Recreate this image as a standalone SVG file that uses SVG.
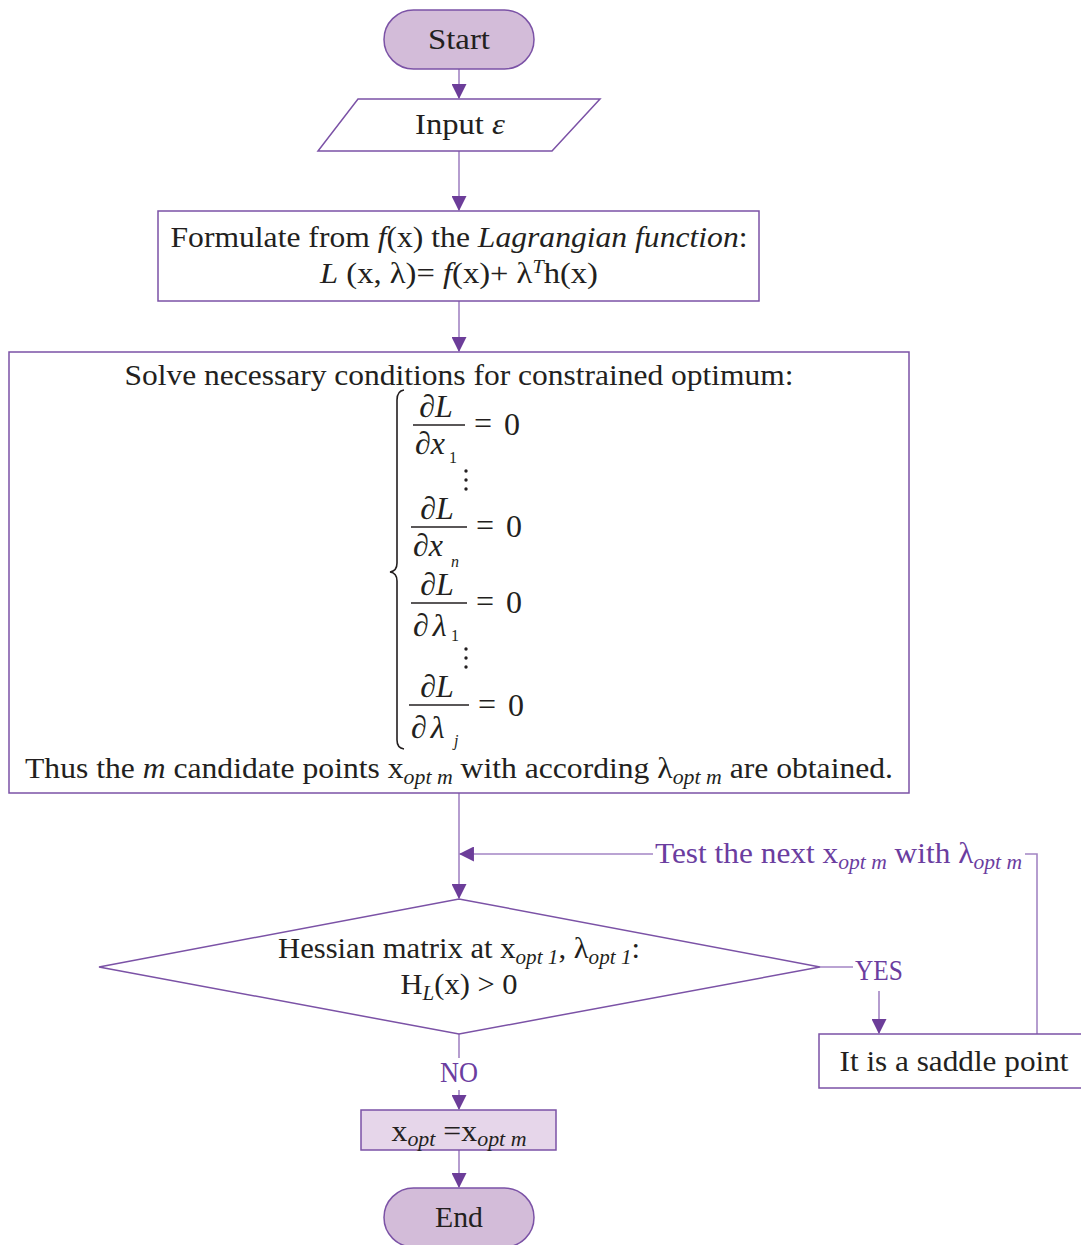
<svg xmlns="http://www.w3.org/2000/svg" width="1081" height="1245" viewBox="0 0 1081 1245">
  <style>
    .box { fill: #ffffff; stroke: #7b52a6; stroke-width: 1.5; }
    .term { fill: #d3bcd9; stroke: #7b52a6; stroke-width: 1.5; }
    .assign { fill: #e6d6ea; stroke: #7b52a6; stroke-width: 1.5; }
    .conn { fill: none; stroke: #a385c4; stroke-width: 1.6; }
    .t { font-family: "Liberation Serif", "Times New Roman", serif; font-size: 29px; fill: #231f20; text-anchor: middle; }
    .lbl { font-family: "Liberation Serif", "Times New Roman", serif; font-size: 29px; fill: #6b3d9f; }
    .i { font-style: italic; }
    .sub { font-size: 20px; font-style: italic; }
    .eq { font-family: "Liberation Serif", "Times New Roman", serif; font-size: 32px; fill: #231f20; }
    .eqs { font-family: "Liberation Serif", "Times New Roman", serif; font-size: 16px; fill: #231f20; }
    .bar { stroke: #231f20; stroke-width: 1.3; }
    .dot { fill: #231f20; }
  </style>
  <defs>
    <marker id="arr" markerUnits="userSpaceOnUse" markerWidth="15" markerHeight="15" viewBox="0 0 14 14" refX="13" refY="7" orient="auto">
      <path d="M0,0 L14,7 L0,14 Z" fill="#6c3d99"/>
    </marker>
  </defs>

  <!-- connectors -->
  <g id="connectors">
    <path class="conn" d="M459 69 V98" marker-end="url(#arr)"/>
    <path class="conn" d="M459 151 V210" marker-end="url(#arr)"/>
    <path class="conn" d="M459 301 V351" marker-end="url(#arr)"/>
    <path class="conn" d="M459 793 V898" marker-end="url(#arr)"/>
    <path class="conn" d="M653 854 H460" marker-end="url(#arr)"/>
    <path class="conn" d="M1037 1034 V854 H1025"/>
    <path class="conn" d="M820 967 H853"/>
    <path class="conn" d="M879 991 V1033" marker-end="url(#arr)"/>
    <path class="conn" d="M459 1034 V1058"/>
    <path class="conn" d="M459 1090 V1109" marker-end="url(#arr)"/>
    <path class="conn" d="M459 1150 V1187" marker-end="url(#arr)"/>
    <text class="lbl" x="655" y="863" textLength="367" lengthAdjust="spacingAndGlyphs">Test the next x<tspan class="sub" dy="6">opt m</tspan><tspan dy="-6"> with λ</tspan><tspan class="sub" dy="6">opt m</tspan></text>
    <text class="lbl" x="855" y="980" textLength="48" lengthAdjust="spacingAndGlyphs">YES</text>
    <text class="lbl" x="440" y="1082" textLength="38" lengthAdjust="spacingAndGlyphs">NO</text>
  </g>

  <!-- start -->
  <g id="start">
    <rect class="term" x="384" y="10" width="150" height="59" rx="29.5"/>
    <text class="t" x="459" y="49" textLength="62" lengthAdjust="spacingAndGlyphs">Start</text>
  </g>

  <!-- input -->
  <g id="input">
    <polygon class="box" points="358,99 600,99 552,151 318,151"/>
    <text class="t" x="460" y="134" textLength="90" lengthAdjust="spacingAndGlyphs">Input <tspan class="i">ε</tspan></text>
  </g>

  <!-- lagrangian -->
  <g id="lagrangian">
    <rect class="box" x="158" y="211" width="601" height="90"/>
    <text class="t" x="459" y="247" textLength="577" lengthAdjust="spacingAndGlyphs">Formulate from <tspan class="i">f</tspan>(x) the <tspan class="i">Lagrangian function</tspan>:</text>
    <text class="t" x="459" y="283" textLength="278" lengthAdjust="spacingAndGlyphs"><tspan class="i">L</tspan> (x, λ)= <tspan class="i">f</tspan>(x)+ λ<tspan class="i" font-size="18" dy="-10">T</tspan><tspan dy="10">h(x)</tspan></text>
  </g>

  <!-- necessary conditions -->
  <g id="conditions">
    <rect class="box" x="9" y="352" width="900" height="441"/>
    <text class="t" x="459" y="385" textLength="669" lengthAdjust="spacingAndGlyphs">Solve necessary conditions for constrained optimum:</text>
    <!-- brace -->
    <path d="M404 390 Q397 391 397 400 V563 Q397 571 390 572 Q397 573 397 581 V740 Q397 748 404 749" fill="none" stroke="#231f20" stroke-width="1.6"/>
    <!-- dL/dx1 -->
    <text class="eq i" x="436" y="417" text-anchor="middle">∂L</text>
    <line class="bar" x1="413" y1="425" x2="465" y2="425"/>
    <text class="eq i" x="415" y="454">∂x</text>
    <text class="eqs" x="449" y="463">1</text>
    <text class="eq" x="474" y="434">=</text>
    <text class="eq" x="504" y="435">0</text>
    <circle class="dot" cx="466" cy="471" r="1.7"/>
    <circle class="dot" cx="466" cy="480" r="1.7"/>
    <circle class="dot" cx="466" cy="489" r="1.7"/>
    <!-- dL/dxn -->
    <text class="eq i" x="437" y="519" text-anchor="middle">∂L</text>
    <line class="bar" x1="411" y1="527" x2="467" y2="527"/>
    <text class="eq i" x="413" y="556">∂x</text>
    <text class="eqs i" x="451" y="567">n</text>
    <text class="eq" x="476" y="536">=</text>
    <text class="eq" x="506" y="537">0</text>
    <!-- dL/dlambda1 -->
    <text class="eq i" x="437" y="595" text-anchor="middle">∂L</text>
    <line class="bar" x1="411" y1="603" x2="467" y2="603"/>
    <text class="eq i" x="413" y="636">∂<tspan dx="4">λ</tspan></text>
    <text class="eqs" x="451" y="641">1</text>
    <text class="eq" x="476" y="612">=</text>
    <text class="eq" x="506" y="613">0</text>
    <circle class="dot" cx="466" cy="649" r="1.7"/>
    <circle class="dot" cx="466" cy="658" r="1.7"/>
    <circle class="dot" cx="466" cy="667" r="1.7"/>
    <!-- dL/dlambdaj -->
    <text class="eq i" x="437" y="697" text-anchor="middle">∂L</text>
    <line class="bar" x1="409" y1="705" x2="469" y2="705"/>
    <text class="eq i" x="411" y="738">∂<tspan dx="4">λ</tspan></text>
    <text class="eqs i" x="454" y="746">j</text>
    <text class="eq" x="478" y="715">=</text>
    <text class="eq" x="508" y="716">0</text>
    <text class="t" x="459" y="778" textLength="868" lengthAdjust="spacingAndGlyphs">Thus the <tspan class="i">m</tspan> candidate points x<tspan class="sub" dy="6">opt m</tspan><tspan dy="-6"> with according λ</tspan><tspan class="sub" dy="6">opt m</tspan><tspan dy="-6"> are obtained.</tspan></text>
  </g>

  <!-- hessian test -->
  <g id="hessian">
    <polygon class="box" points="99,967 459,899 820,967 459,1034"/>
    <text class="t" x="459" y="958" textLength="362" lengthAdjust="spacingAndGlyphs">Hessian matrix at x<tspan class="sub" dy="6">opt 1</tspan><tspan dy="-6">, λ</tspan><tspan class="sub" dy="6">opt 1</tspan><tspan dy="-6">:</tspan></text>
    <text class="t" x="459" y="994" textLength="117" lengthAdjust="spacingAndGlyphs">H<tspan class="sub" dy="6">L</tspan><tspan dy="-6">(x) &gt; 0</tspan></text>
  </g>

  <!-- saddle point -->
  <g id="saddle">
    <rect class="box" x="819" y="1034" width="264" height="54"/>
    <text class="t" x="954" y="1071" textLength="229" lengthAdjust="spacingAndGlyphs">It is a saddle point</text>
  </g>

  <!-- optimum assignment -->
  <g id="optimum">
    <rect class="assign" x="361" y="1110" width="195" height="40"/>
    <text class="t" x="459" y="1141" textLength="135" lengthAdjust="spacingAndGlyphs">x<tspan class="sub" dy="5">opt</tspan><tspan dy="-5"> =x</tspan><tspan class="sub" dy="5">opt m</tspan></text>
  </g>

  <!-- end -->
  <g id="end">
    <rect class="term" x="384" y="1188" width="150" height="59" rx="29.5"/>
    <text class="t" x="459" y="1227" textLength="48" lengthAdjust="spacingAndGlyphs">End</text>
  </g>
</svg>
